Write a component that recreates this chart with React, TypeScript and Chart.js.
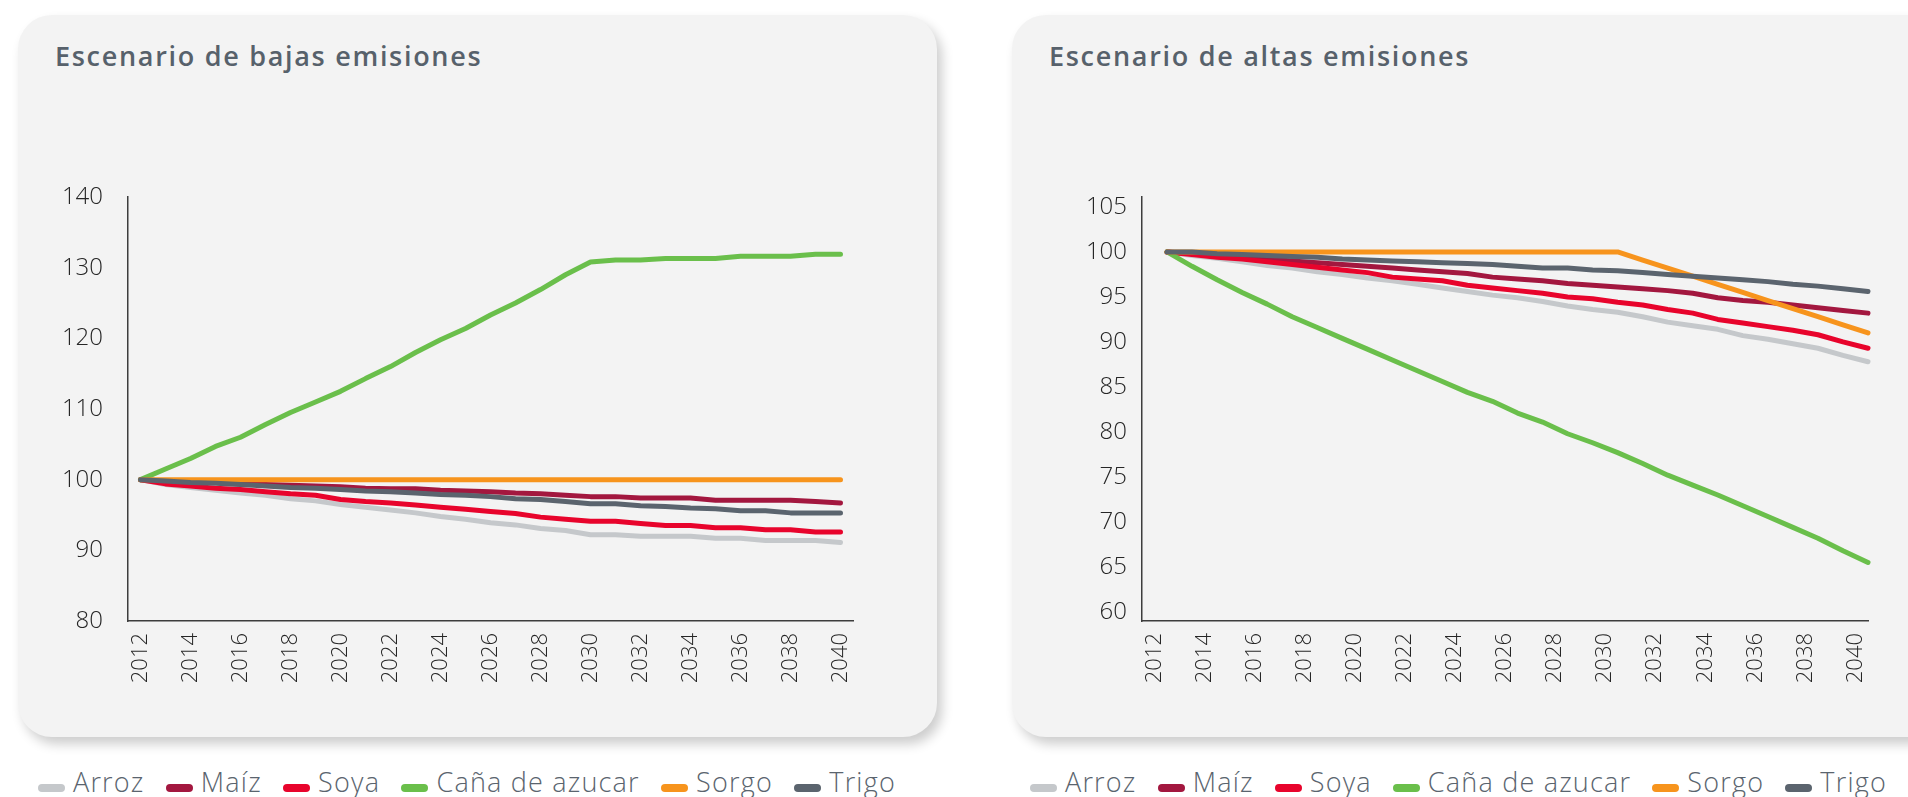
import React, { useEffect, useRef } from "react";
import { Chart, registerables } from "chart.js";

Chart.register(...registerables);

// ---------- data ----------
const YEARS = [
  2012, 2013, 2014, 2015, 2016, 2017, 2018, 2019, 2020, 2021, 2022, 2023, 2024, 2025, 2026,
  2027, 2028, 2029, 2030, 2031, 2032, 2033, 2034, 2035, 2036, 2037, 2038, 2039, 2040,
];
const YEAR_TICKS = [2012, 2014, 2016, 2018, 2020, 2022, 2024, 2026, 2028, 2030, 2032, 2034, 2036, 2038, 2040];

const SERIES_NAMES = ["Arroz", "Maíz", "Soya", "Caña de azucar", "Sorgo", "Trigo"];
const SERIES_COLORS = ["#c5c8cb", "#a3173f", "#e8042c", "#6abf4b", "#f7941d", "#5b646e"];

const TITLE_BAJAS = "Escenario de bajas emisiones";
const TITLE_ALTAS = "Escenario de altas emisiones";

const BAJAS_Y_TICKS = [80, 90, 100, 110, 120, 130, 140];
const ALTAS_Y_TICKS = [60, 65, 70, 75, 80, 85, 90, 95, 100, 105];

// Escenario de bajas emisiones
const BAJAS_ARROZ = [100, 99.3, 98.9, 98.5, 98.1, 97.8, 97.3, 97.0, 96.5, 96.1, 95.7, 95.3, 94.8, 94.4, 93.9, 93.6, 93.1, 92.8, 92.2, 92.2, 92.0, 92.0, 92.0, 91.7, 91.7, 91.4, 91.4, 91.4, 91.1];
const BAJAS_MAIZ = [100, 99.8, 99.6, 99.6, 99.4, 99.3, 99.2, 99.1, 99.0, 98.8, 98.7, 98.7, 98.5, 98.4, 98.3, 98.1, 98.0, 97.8, 97.6, 97.6, 97.4, 97.4, 97.4, 97.1, 97.1, 97.1, 97.1, 96.9, 96.7];
const BAJAS_SOYA = [100, 99.4, 99.1, 98.8, 98.6, 98.3, 98.0, 97.8, 97.2, 96.9, 96.7, 96.4, 96.1, 95.8, 95.5, 95.2, 94.7, 94.4, 94.1, 94.1, 93.8, 93.5, 93.5, 93.2, 93.2, 92.9, 92.9, 92.6, 92.6];
const BAJAS_CANA = [100, 101.5, 103.0, 104.7, 106.0, 107.8, 109.5, 111.0, 112.5, 114.3, 116.0, 118.0, 119.8, 121.4, 123.3, 125.0, 126.9, 129.0, 130.8, 131.1, 131.1, 131.3, 131.3, 131.3, 131.6, 131.6, 131.6, 131.9, 131.9];
const BAJAS_SORGO = [100, 100, 100, 100, 100, 100, 100, 100, 100, 100, 100, 100, 100, 100, 100, 100, 100, 100, 100, 100, 100, 100, 100, 100, 100, 100, 100, 100, 100];
const BAJAS_TRIGO = [100, 99.8, 99.6, 99.5, 99.3, 99.1, 98.9, 98.8, 98.6, 98.4, 98.3, 98.1, 97.9, 97.8, 97.6, 97.3, 97.2, 96.9, 96.6, 96.6, 96.3, 96.2, 96.0, 95.9, 95.6, 95.6, 95.3, 95.3, 95.3];

// Escenario de altas emisiones
const ALTAS_ARROZ = [100, 99.6, 99.3, 98.9, 98.5, 98.2, 97.8, 97.5, 97.1, 96.8, 96.4, 96.0, 95.6, 95.2, 94.9, 94.5, 94.0, 93.6, 93.3, 92.8, 92.2, 91.8, 91.4, 90.7, 90.3, 89.8, 89.3, 88.5, 87.8];
const ALTAS_MAIZ = [100, 99.8, 99.6, 99.4, 99.2, 99.0, 98.8, 98.6, 98.4, 98.2, 98.0, 97.8, 97.6, 97.2, 97.0, 96.8, 96.5, 96.3, 96.1, 95.9, 95.7, 95.4, 94.9, 94.6, 94.4, 94.1, 93.8, 93.5, 93.2];
const ALTAS_SOYA = [100, 99.7, 99.4, 99.2, 98.9, 98.6, 98.3, 98.0, 97.7, 97.2, 97.0, 96.8, 96.3, 96.0, 95.7, 95.4, 95.0, 94.8, 94.4, 94.1, 93.6, 93.2, 92.5, 92.1, 91.7, 91.3, 90.8, 90.0, 89.3];
const ALTAS_CANA = [100, 98.4, 96.9, 95.5, 94.2, 92.8, 91.6, 90.4, 89.2, 88.0, 86.8, 85.6, 84.4, 83.4, 82.1, 81.1, 79.8, 78.8, 77.7, 76.5, 75.2, 74.1, 73.0, 71.8, 70.6, 69.4, 68.2, 66.8, 65.5];
const ALTAS_SORGO = [100, 100, 100, 100, 100, 100, 100, 100, 100, 100, 100, 100, 100, 100, 100, 100, 100, 100, 100, 99.1, 98.2, 97.3, 96.4, 95.5, 94.6, 93.7, 92.8, 91.9, 91.0];
const ALTAS_TRIGO = [100, 100, 99.8, 99.7, 99.6, 99.5, 99.4, 99.2, 99.1, 99.0, 98.9, 98.8, 98.7, 98.6, 98.4, 98.2, 98.2, 98.0, 97.9, 97.7, 97.5, 97.3, 97.1, 96.9, 96.7, 96.4, 96.2, 95.9, 95.6];

const BAJAS_SERIES = [BAJAS_ARROZ, BAJAS_MAIZ, BAJAS_SOYA, BAJAS_CANA, BAJAS_SORGO, BAJAS_TRIGO];
const ALTAS_SERIES = [ALTAS_ARROZ, ALTAS_MAIZ, ALTAS_SOYA, ALTAS_CANA, ALTAS_SORGO, ALTAS_TRIGO];

// ---------- styling ----------
const CARD_BG = "#f3f3f3";
const TITLE_COLOR = "#57616b";
const TICK_COLOR = "#262626";
const AXIS_COLOR = "#3d3d3d";
const LEGEND_COLOR = "#5a646e";
const FONT = "'Open Sans', 'Noto Sans', sans-serif";

type ChartProps = {
  series: number[][];
  xShift: number;
  yMin: number;
  yMax: number;
  yTicks: number[];
  yAxisWidth: number;
  yTickPad: number;
  padTop: number;
  padRight: number;
  left: number;
  top: number;
  width: number;
  height: number;
};

function LineChart(p: ChartProps) {
  const ref = useRef<HTMLCanvasElement>(null);
  useEffect(() => {
    if (!ref.current) return;
    const datasets = SERIES_NAMES.map((name, i) => ({
      label: name,
      data: YEARS.map((yr, j) => ({ x: yr + p.xShift, y: p.series[i][j] })),
      borderColor: SERIES_COLORS[i],
      backgroundColor: SERIES_COLORS[i],
      borderWidth: 5,
      pointRadius: 0,
      pointHoverRadius: 0,
      tension: 0,
      borderCapStyle: "round" as const,
      borderJoinStyle: "round" as const,
      order: SERIES_NAMES.length - i,
      clip: false as const,
    }));
    const chart = new Chart(ref.current, {
      type: "line",
      data: { datasets },
      options: {
        animation: false,
        responsive: false,
        maintainAspectRatio: false,
        events: [],
        layout: { padding: { left: 0, top: p.padTop, right: p.padRight, bottom: 0 } },
        plugins: { legend: { display: false }, tooltip: { enabled: false }, title: { display: false } },
        scales: {
          x: {
            type: "linear",
            min: 2011.5,
            max: 2040.5,
            grid: { display: false, drawTicks: false },
            border: { display: true, color: AXIS_COLOR, width: 1.5 },
            afterBuildTicks: (s: any) => {
              s.ticks = YEAR_TICKS.map((v) => ({ value: v }));
            },
            afterFit: (s: any) => {
              s.height = 89;
            },
            ticks: {
              autoSkip: false,
              minRotation: 90,
              maxRotation: 90,
              padding: 12,
              color: TICK_COLOR,
              font: { family: FONT, size: 22, weight: "300" as any },
              callback: (v: any) => String(v),
            },
          },
          y: {
            type: "linear",
            min: p.yMin,
            max: p.yMax,
            grid: { display: false, drawTicks: false },
            border: { display: true, color: AXIS_COLOR, width: 1.5 },
            afterBuildTicks: (s: any) => {
              s.ticks = p.yTicks.map((v) => ({ value: v }));
            },
            afterFit: (s: any) => {
              s.width = p.yAxisWidth;
            },
            ticks: {
              padding: p.yTickPad,
              color: TICK_COLOR,
              font: { family: FONT, size: 24, weight: "300" as any },
              callback: (v: any) => String(v),
            },
          },
        },
      },
    });
    return () => chart.destroy();
  }, []);
  return (
    <canvas
      ref={ref}
      width={p.width}
      height={p.height}
      style={{ position: "absolute", left: p.left, top: p.top, width: p.width, height: p.height }}
    />
  );
}

function Legend({ left, width }: { left: number; width: number }) {
  return (
    <div
      style={{
        position: "absolute",
        left,
        top: 768,
        width,
        display: "flex",
        justifyContent: "space-between",
        alignItems: "baseline",
        fontFamily: FONT,
        fontWeight: 300,
        fontSize: 27,
        lineHeight: "27px",
        letterSpacing: "1.2px",
        color: LEGEND_COLOR,
        whiteSpace: "nowrap",
      }}
    >
      {SERIES_NAMES.map((name, i) => (
        <span key={name} style={{ display: "inline-flex", alignItems: "baseline" }}>
          <span
            style={{
              display: "inline-block",
              width: 27,
              height: 8,
              borderRadius: 4,
              background: SERIES_COLORS[i],
              marginRight: 8,
            }}
          />
          {name}
        </span>
      ))}
    </div>
  );
}

function Card({ left, width, title }: { left: number; width: number; title: string }) {
  return (
    <div
      style={{
        position: "absolute",
        left,
        top: 15,
        width,
        height: 722,
        borderRadius: 34,
        background: CARD_BG,
        boxShadow: "5px 7px 12px rgba(0,0,0,0.20)",
      }}
    >
      <div
        style={{
          position: "absolute",
          left: 37,
          top: 27,
          fontFamily: FONT,
          fontWeight: 600,
          fontSize: 27,
          lineHeight: "27px",
          letterSpacing: "1.7px",
          color: TITLE_COLOR,
          whiteSpace: "nowrap",
        }}
      >
        {title}
      </div>
    </div>
  );
}

export default function App() {
  return (
    <div
      style={{
        position: "absolute",
        left: 0,
        top: 0,
        width: 1908,
        height: 797,
        overflow: "hidden",
        background: "#ffffff",
      }}
    >
      <Card left={18} width={919} title={TITLE_BAJAS} />
      <Card left={1012} width={1000} title={TITLE_ALTAS} />
      <LineChart
        series={BAJAS_SERIES}
        xShift={0}
        yMin={80}
        yMax={140}
        yTicks={BAJAS_Y_TICKS}
        yAxisWidth={128}
        yTickPad={25}
        padTop={47}
        padRight={87}
        left={0}
        top={150}
        width={940}
        height={560}
      />
      <LineChart
        series={ALTAS_SERIES}
        xShift={0.5}
        yMin={59}
        yMax={106.1}
        yTicks={ALTAS_Y_TICKS}
        yAxisWidth={142}
        yTickPad={15}
        padTop={47}
        padRight={40}
        left={1000}
        top={150}
        width={908}
        height={560}
      />
      <Legend left={38} width={858} />
      <Legend left={1030} width={857} />
    </div>
  );
}
